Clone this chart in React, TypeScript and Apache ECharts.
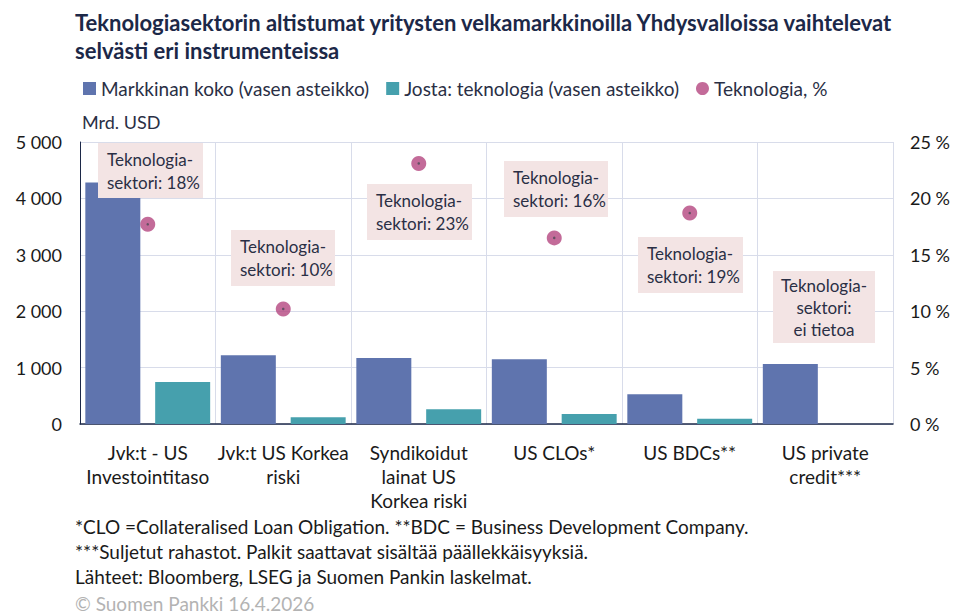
import React, { useEffect, useRef } from 'react';
import * as echarts from 'echarts';

const categories = [
  'Jvk:t - US\nInvestointitaso',
  'Jvk:t US Korkea\nriski',
  'Syndikoidut\nlainat US\nKorkea riski',
  'US CLOs*',
  'US BDCs**',
  'US private\ncredit***',
];
const marketSize = [4280, 1220, 1170, 1148, 526, 1064];
const techAmount: (number | null)[] = [745, 119, 260, 177, 94, null];
const techShare: (number | null)[] = [17.7, 10.2, 23.1, 16.5, 18.7, null];

const seriesNames = ['Markkinan koko (vasen asteikko)', 'Josta: teknologia (vasen asteikko)', 'Teknologia, %'];
const annotationTexts = [
  'Teknologia-\nsektori: 18%',
  'Teknologia-\nsektori: 10%',
  'Teknologia-\nsektori: 23%',
  'Teknologia-\nsektori: 16%',
  'Teknologia-\nsektori: 19%',
  'Teknologia-\nsektori:\nei tietoa',
];
const title = 'Teknologiasektorin altistumat yritysten velkamarkkinoilla Yhdysvalloissa vaihtelevat\nselvästi eri instrumenteissa';
const footnotes = [
  '*CLO =Collateralised Loan Obligation. **BDC = Business Development Company.',
  '***Suljetut rahastot. Palkit saattavat sisältää päällekkäisyyksiä.',
  'Lähteet: Bloomberg, LSEG ja Suomen Pankin laskelmat.',
];
const copyright = '© Suomen Pankki 16.4.2026';
const unitLabel = 'Mrd. USD';

// layout (pixel boxes for annotation labels)
const annLayout = [
  { x: 98, y: 143, w: 105, h: 55, align: 'left' },
  { x: 231, y: 230, w: 104, h: 56, align: 'left' },
  { x: 367, y: 184, w: 105, h: 56, align: 'left' },
  { x: 504, y: 161, w: 104, h: 56, align: 'left' },
  { x: 638, y: 237, w: 105, h: 56, align: 'left' },
  { x: 773, y: 271, w: 102, h: 72, align: 'center' },
];

const FONT = 'Lato, sans-serif';
const TEXT = '#2a2f45';

export default function App() {
  const ref = useRef<HTMLDivElement>(null);
  useEffect(() => {
    document.body.style.margin = '0';
    const chart = echarts.init(ref.current!, null, { renderer: 'svg' });
    const graphic: any[] = [];
    annotationTexts.forEach((t, i) => {
      const L = annLayout[i];
      graphic.push({
        type: 'rect',
        shape: { x: L.x, y: L.y, width: L.w, height: L.h },
        style: { fill: '#f3e4e4' },
        z: 10,
      });
      graphic.push({
        type: 'text',
        x: L.align === 'center' ? L.x + L.w / 2 : L.x + 9,
        y: L.y + L.h / 2,
        style: {
          text: t,
          fill: TEXT,
          font: `17px ${FONT}`,
          lineHeight: t.split('\n').length === 3 ? 22 : 23,
          align: L.align,
          verticalAlign: 'middle',
        },
        z: 11,
      });
    });
    graphic.push({
      type: 'text', x: 82, y: 113,
      style: { text: unitLabel, fill: TEXT, font: `18px ${FONT}` },
    });
    footnotes.forEach((f, i) => {
      graphic.push({
        type: 'text', x: 75, y: 517 + i * 25,
        style: { text: f, fill: '#1a1a1a', font: `19px ${FONT}` },
      });
    });
    graphic.push({
      type: 'text', x: 75, y: 594,
      style: { text: copyright, fill: '#b3b3b3', font: `19px ${FONT}` },
    });

    chart.setOption({
      animation: false,
      textStyle: { fontFamily: FONT },
      title: {
        text: title,
        left: 70,
        top: 3,
        textStyle: { fontSize: 22, fontWeight: 'bold', color: '#1c2848', lineHeight: 28, fontFamily: FONT },
      },
      legend: {
        left: 78,
        top: 74,
        itemWidth: 13,
        itemHeight: 13,
        itemGap: 17,
        textStyle: { fontSize: 19, color: TEXT, fontFamily: FONT },
        data: [
          { name: seriesNames[0], icon: 'rect' },
          { name: seriesNames[1], icon: 'rect' },
          { name: seriesNames[2], icon: 'circle' },
        ],
      },
      grid: { left: 80, right: 61, top: 142, bottom: 191, containLabel: false, outerBoundsMode: 'none' },
      xAxis: {
        type: 'category',
        data: categories,
        axisLine: { lineStyle: { color: '#1c2848', width: 1.5 } },
        axisTick: { show: false },
        splitLine: { show: true, lineStyle: { color: '#d8dcea', width: 1 } },
        axisLabel: { fontSize: 19, color: '#1a1a1a', lineHeight: 24, margin: 16, interval: 0, fontFamily: FONT },
      },
      yAxis: [
        {
          type: 'value',
          min: 0,
          max: 5000,
          interval: 1000,
          axisLine: { show: true, lineStyle: { color: '#1c2848', width: 1 } },
          axisTick: { show: false },
          splitLine: { lineStyle: { color: '#d8dcea', width: 1 } },
          axisLabel: {
            fontSize: 18, color: '#1a1a1a', margin: 18, fontFamily: FONT,
            formatter: (v: number) => String(v).replace(/\B(?=(\d{3})+(?!\d))/g, ' '),
          },
        },
        {
          type: 'value',
          min: 0,
          max: 25,
          interval: 5,
          axisLine: { show: false },
          axisTick: { show: false },
          splitLine: { show: false },
          axisLabel: { fontSize: 18, color: '#1a1a1a', margin: 17, formatter: '{value} %', fontFamily: FONT },
        },
      ],
      series: [
        {
          name: seriesNames[0],
          type: 'bar',
          data: marketSize,
          barWidth: 55,
          barGap: '27%',
          itemStyle: { color: '#5f74ae' },
        },
        {
          name: seriesNames[1],
          type: 'bar',
          data: techAmount.map((v) => (v == null ? '-' : v)),
          barWidth: 55,
          itemStyle: { color: '#46a0ad' },
        },
        {
          name: seriesNames[2],
          type: 'scatter',
          yAxisIndex: 1,
          data: techShare.map((v) => (v == null ? '-' : v)),
          symbol: 'circle',
          symbolSize: 15,
          itemStyle: { color: '#b4467f' },
          z: 5,
        },
        {
          name: '_centre',
          type: 'scatter',
          yAxisIndex: 1,
          data: techShare.map((v) => (v == null ? '-' : v)),
          symbol: 'circle',
          symbolSize: 2.5,
          itemStyle: { color: '#4a4a55' },
          silent: true,
          z: 6,
        },
      ],
      graphic,
    });
    return () => chart.dispose();
  }, []);
  return <div ref={ref} style={{ width: 954, height: 615 }} />;
}
